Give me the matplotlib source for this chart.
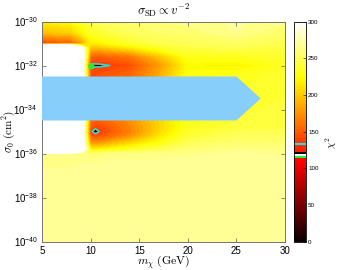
import numpy as np
import matplotlib
matplotlib.use('Agg')
import matplotlib.pyplot as plt
from matplotlib.colors import ListedColormap, Normalize, to_rgba
from matplotlib.cm import ScalarMappable

plt.rcParams['font.family'] = ['Liberation Sans', 'DejaVu Sans']
plt.rcParams['mathtext.fontset'] = 'custom'
plt.rcParams['mathtext.rm'] = 'Liberation Sans'
plt.rcParams['mathtext.it'] = 'Liberation Sans:italic'
plt.rcParams['mathtext.bf'] = 'Liberation Sans:bold'

# ---- data ----
mass = [5, 8, 9, 10, 10.5, 11, 12, 14, 17, 20, 25, 30]
log_sigma = [-30.0, -30.5, -31.0, -31.2, -31.6, -31.9, -32.0, -32.1, -32.5,
             -34.5, -34.8, -35.0, -35.2, -35.5, -35.8, -36.0, -36.5, -37.0,
             -38.0, -40.0]
chi2 = [
    [215, 222, 232, 245, 247, 249, 252, 256, 260, 263, 266, 262],   # -30.0
    [195, 202, 218, 235, 238, 240, 244, 250, 255, 256, 265, 254],   # -30.5
    [135, 148, 175, 212, 215, 218, 225, 236, 245, 248, 252, 247],   # -31.0
    [600, 600, 320, 190, 192, 195, 200, 212, 232, 244, 246, 243],   # -31.2
    [600, 600, 350, 155, 150, 150, 152, 160, 195, 230, 232, 238],   # -31.6
    [600, 600, 350, 138, 138, 140, 142, 148, 180, 224, 222, 234],   # -31.9
    [600, 600, 350, 115, 119, 121.5, 133, 142, 176, 220, 216, 233], # -32.0
    [600, 600, 350, 138, 138, 140, 142, 147, 180, 224, 222, 234],   # -32.1
    [600, 600, 350, 145, 145, 147, 150, 155, 185, 228, 232, 238],   # -32.5
    [600, 600, 350, 155, 150, 152, 158, 172, 205, 232, 240, 242],   # -34.5
    [600, 600, 350, 148, 140, 142, 150, 168, 203, 233, 243, 244],   # -34.8
    [600, 600, 350, 140, 119, 137, 148, 165, 205, 235, 246, 246],   # -35.0
    [600, 600, 350, 148, 143, 146, 155, 172, 210, 240, 250, 250],   # -35.2
    [600, 600, 350, 175, 172, 175, 185, 200, 225, 248, 256, 255],   # -35.5
    [600, 600, 350, 215, 215, 217, 222, 232, 245, 256, 262, 262],   # -35.8
    [262, 262, 262, 255, 256, 258, 260, 262, 263, 264, 266, 264],   # -36.0
    [264, 264, 265, 266, 266, 266, 267, 267, 267, 267, 267, 267],   # -36.5
    [267, 267, 267, 267, 267, 268, 268, 268, 268, 268, 268, 268],   # -37.0
    [268, 268, 268, 268, 268, 268, 268, 268, 268, 268, 268, 268],   # -38.0
    [269, 269, 269, 269, 269, 269, 269, 269, 269, 269, 269, 269],   # -40.0
]

best_fit_mass = [10.0]
best_fit_log_sigma = [-32.0]

excluded_mass = [5, 25, 27.5, 25, 5]
excluded_log_sigma = [-32.5, -32.5, -33.5, -34.5, -34.5]

x_ticks = [5, 10, 15, 20, 25, 30]
y_ticks = [-40, -38, -36, -34, -32, -30]
cbar_ticks = [0, 50, 100, 150, 200, 250, 300]

# colour bands marked in the colour bar: (low, high, colour)
bands = [(114, 117, '#1ef03c'), (117, 119.5, '#ffffff'),
         (119.5, 121.5, '#000000'), (131.5, 134.5, '#1de3e8')]

# ---- colour maps ----
base = plt.get_cmap('hot')
vals = np.linspace(0, 300, 1201)
cols = base(vals / 300.0)
for lo, hi, c in bands:
    m = (vals >= lo) & (vals < hi)
    cols[m] = to_rgba(c)
banded = ListedColormap(cols)
field_cmap = base.copy()
field_cmap.set_over('white')
norm = Normalize(0, 300)

fig = plt.figure(figsize=(3.38, 2.70), dpi=100)
ax = fig.add_axes([42 / 338, 28.5 / 270, 243 / 338, 220 / 270])

Z = np.array(chi2, dtype=float)
ax.contourf(mass, log_sigma, Z, levels=np.arange(0, 301, 5), cmap=field_cmap,
            norm=norm, extend='max')
ax.contourf(mass, log_sigma, Z, levels=[0, 121.5], colors=['black'])
ax.contour(mass, log_sigma, Z, levels=[133], colors=['#1de3e8'], linewidths=1.0)
ax.fill(excluded_mass, excluded_log_sigma, color='#87cefa', lw=0, zorder=3)
ax.plot(best_fit_mass, best_fit_log_sigma, 'o', color='#1ef03c', ms=4.5,
        mec='none', zorder=4)

ax.set_xlim(5, 30)
ax.set_ylim(-40, -30)
ax.set_xticks(x_ticks)
ax.set_xticklabels([str(v) for v in x_ticks])
ax.set_yticks(y_ticks)
ax.set_yticklabels([r'$10^{%d}$' % v for v in y_ticks])
ax.tick_params(direction='in', top=True, right=True, length=3, width=0.5,
               labelsize=7, color='0.35', pad=3)
for s in ax.spines.values():
    s.set_linewidth(0.7)
    s.set_color('0.45')

ax.set_title(r'$\sigma_{\rm SD} \propto v^{-2}$', fontsize=9,
             math_fontfamily='cm', pad=5)
ax.set_xlabel(r'$m_\chi\ (\mathrm{GeV})$', fontsize=8.5, math_fontfamily='cm',
              labelpad=0)
ax.set_ylabel(r'$\sigma_0\ (\mathrm{cm}^2)$', fontsize=8, math_fontfamily='cm',
              labelpad=0)
ax.yaxis.set_label_coords(-0.103, 0.5)
ax.xaxis.set_label_coords(0.5, -0.058)

cax = fig.add_axes([294 / 338, 28.5 / 270, 12 / 338, 220 / 270])
sm = ScalarMappable(norm=norm, cmap=banded)
cb = fig.colorbar(sm, cax=cax, ticks=cbar_ticks)
cb.ax.tick_params(labelsize=4.5, direction='in', length=2, width=0.4, pad=1.5)
cb.outline.set_linewidth(0.6)
cb.set_label(r'$\chi^2$', fontsize=7.5, math_fontfamily='cm')
cb.ax.yaxis.set_label_coords(2.45, 0.45)

fig.savefig('out.png', dpi=100)
